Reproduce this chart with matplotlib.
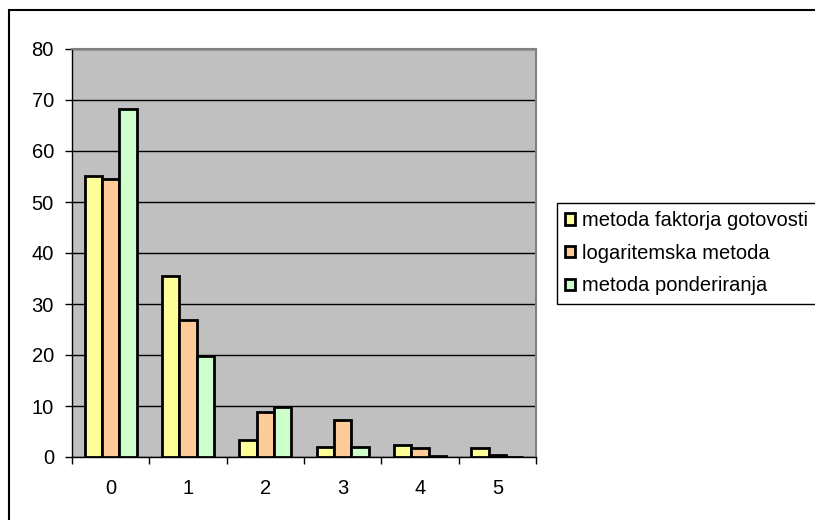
import numpy as np
import matplotlib.pyplot as plt
from matplotlib.patches import Rectangle

kategorije = ["0", "1", "2", "3", "4", "5"]
faktor_gotovosti = [55.0, 35.5, 3.3, 1.9, 2.4, 1.7]
logaritemska = [54.6, 26.9, 8.9, 7.2, 1.8, 0.45]
ponderiranje = [68.3, 19.8, 9.9, 1.9, 0.2, 0.0]

serije = [
    ("metoda faktorja gotovosti", faktor_gotovosti, "#FFFF99"),
    ("logaritemska metoda", logaritemska, "#FFCC99"),
    ("metoda ponderiranja", ponderiranje, "#CCFFCC"),
]

plt.rcParams["font.family"] = ["Liberation Sans", "DejaVu Sans"]

fig = plt.figure(figsize=(8.15, 5.2), dpi=100)
ax = fig.add_axes([72 / 815, 63 / 520, 464 / 815, 408 / 520])
ax.set_facecolor("#C0C0C0")

x = np.arange(len(kategorije))
w = 0.224
for i, (ime, vrednosti, barva) in enumerate(serije):
    ax.bar(x + (i - 1) * w, vrednosti, w, color=barva, edgecolor="black",
           linewidth=2, label=ime, zorder=3)

ax.set_xlim(-0.5, len(kategorije) - 0.5)
ax.set_ylim(0, 80)
ax.set_yticks(range(0, 81, 10))
ax.yaxis.grid(True, color="black", linewidth=1, zorder=1)

# kljukice na mejah kategorij, oznake na sredini
ax.set_xticks(np.arange(-0.5, len(kategorije)), labels=[])
ax.set_xticks(x, labels=kategorije, minor=True)
ax.tick_params(axis="x", which="major", length=5, width=1, direction="out")
ax.tick_params(axis="x", which="minor", length=0, pad=16, labelsize=14.5)
ax.tick_params(axis="y", length=5, width=1, direction="out", pad=8, labelsize=14.5)

for s in ("top", "right"):
    ax.spines[s].set_color("#808080")
    ax.spines[s].set_linewidth(1.5)
for s in ("left", "bottom"):
    ax.spines[s].set_color("black")
    ax.spines[s].set_linewidth(1)

leg = ax.legend(loc="upper left", bbox_to_anchor=(557 / 815, 1 - 203 / 520),
                bbox_transform=fig.transFigure, fontsize=14.5, frameon=True,
                fancybox=False, edgecolor="black", framealpha=1,
                handlelength=0.5, handleheight=0.5, handletextpad=0.35,
                labelspacing=0.68, borderpad=0.4, borderaxespad=0)
leg.get_frame().set_linewidth(1)

# okvir celotnega grafikona
fig.patches.append(Rectangle((9 / 815, -0.1), 1.2, 1.1 - 10 / 520,
                             transform=fig.transFigure, fill=False,
                             edgecolor="black", linewidth=1.5, zorder=0))

fig.savefig("out.png", dpi=100)
